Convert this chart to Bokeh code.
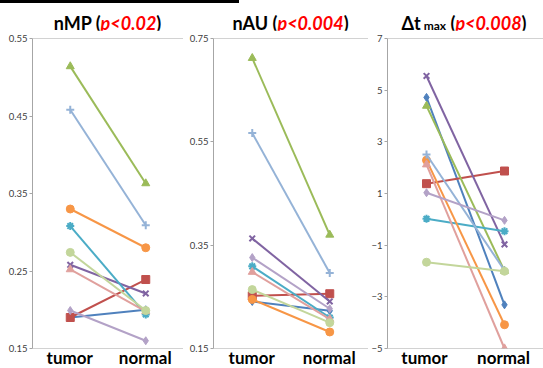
from bokeh.plotting import figure
from bokeh.models import Div, Range1d, FactorRange, FixedTicker, Span
from bokeh.layouts import row, column
from bokeh.embed import file_html
from bokeh.resources import INLINE

categories = ["tumor", "normal"]

series_colors = ["#4F81BD", "#C0504D", "#9BBB59", "#8064A2", "#4BACC6",
                 "#F79646", "#95B3D7", "#E0A09D", "#C3D69B", "#B3A2C7"]
series_markers = ["diamond", "square", "triangle", "x", "asterisk",
                  "circle", "cross", "triangle", "circle", "diamond"]

nmp_tumor = [0.190, 0.190, 0.514, 0.258, 0.308, 0.330, 0.458, 0.252, 0.274, 0.199]
nmp_normal = [0.200, 0.239, 0.363, 0.221, 0.194, 0.280, 0.309, 0.198, 0.199, 0.160]

nau_tumor = [0.241, 0.252, 0.712, 0.363, 0.309, 0.245, 0.567, 0.298, 0.264, 0.326]
nau_normal = [0.223, 0.256, 0.370, 0.241, 0.210, 0.182, 0.296, 0.207, 0.200, 0.227]

dt_tumor = [4.72, 1.38, 4.39, 5.55, 0.02, 2.29, 2.51, 2.12, -1.66, 1.03]
dt_normal = [-3.31, 1.87, -2.00, -0.97, -0.46, -4.08, -1.98, -5.00, -2.01, -0.04]

nmp_ticks = [0.15, 0.25, 0.35, 0.45, 0.55]
nau_ticks = [0.15, 0.35, 0.55, 0.75]
dt_ticks = [-5, -3, -1, 1, 3, 5, 7]

FONT = "Lato"
AXIS_GRAY = "#A6A6A6"
RED = "#FF0000"


def title_div(width, left, frame_w, inner_html, bar_w):
    html = (
        f'<div style="height:3px;width:{bar_w}px;background:#000;"></div>'
        f'<div style="margin-left:{left}px;width:{frame_w}px;text-align:center;'
        f'font-family:{FONT};font-weight:bold;font-size:18px;line-height:18px;'
        f'padding-top:11px;white-space:nowrap;color:#000;">{inner_html}</div>'
    )
    return Div(text=html, width=width, height=30, margin=(0, 0, 0, 0))


def category_div(width, left, frame_w):
    spans = "".join(
        f'<span style="flex:1;text-align:center;">{cat}</span>'
        for cat in categories)
    html = (
        f'<div style="display:flex;margin-left:{left}px;width:{frame_w}px;'
        f'font-family:{FONT};font-weight:bold;font-size:17px;line-height:14px;'
        f'position:relative;top:-3px;white-space:nowrap;color:#000;">{spans}</div>'
    )
    return Div(text=html, width=width, height=14, margin=(0, 0, 0, 0),
               styles={"overflow": "visible"})


def make_panel(width, left, ylo, yhi, ticks, tumor, normal):
    p = figure(width=width, height=324,
               x_range=FactorRange(*categories), y_range=Range1d(ylo, yhi),
               output_backend="svg", toolbar_location=None,
               min_border_left=left, min_border_right=0,
               min_border_top=8, min_border_bottom=6,
               background_fill_color="white", border_fill_color="white",
               margin=(0, 0, 0, 0))
    p.outline_line_color = None
    p.grid.visible = False

    p.yaxis.ticker = FixedTicker(ticks=ticks)
    p.yaxis.minor_tick_line_color = None
    p.yaxis.major_tick_out = 3
    p.yaxis.major_tick_in = 0
    p.yaxis.major_tick_line_color = AXIS_GRAY
    p.yaxis.axis_line_color = AXIS_GRAY
    p.yaxis.major_label_text_font = FONT
    p.yaxis.major_label_text_font_size = "9.5px"
    p.yaxis.major_label_text_color = "#404040"
    p.yaxis.major_label_standoff = 2

    # the category names sit in a row below the plot; keep the axis line
    p.xaxis.visible = False
    p.add_layout(Span(location=ylo, dimension="width",
                      line_color=AXIS_GRAY, line_width=1))
    p.add_layout(Span(location=yhi, dimension="width",
                      line_color=AXIS_GRAY, line_width=1))

    for i in range(len(tumor)):
        xs = categories
        ys = [tumor[i], normal[i]]
        c = series_colors[i]
        p.line(xs, ys, line_color=c, line_width=2)
        m = series_markers[i]
        if m in ("x", "asterisk", "cross"):
            p.scatter(xs, ys, marker=m, size=8, line_color=c, line_width=2,
                      fill_color=c)
        else:
            p.scatter(xs, ys, marker=m, size=8, line_color=c, fill_color=c)
    return p


red_p = lambda s: f'<span style="color:{RED};font-style:italic;">{s}</span>'

d1 = title_div(183, 32, 151, "nMP (" + red_p("p&lt;0.02") + ")", 183)
p1 = make_panel(183, 32, 0.15, 0.55, nmp_ticks, nmp_tumor, nmp_normal)
c1 = category_div(183, 32, 151)

d2 = title_div(185, 30, 155, "nAU (" + red_p("p&lt;0.004") + ")", 56)
p2 = make_panel(185, 30, 0.15, 0.75, nau_ticks, nau_tumor, nau_normal)
c2 = category_div(185, 30, 155)

dt_title = ('&Delta;t<span style="font-size:12px;"> max</span>&nbsp;('
            + red_p("p&lt;0.008") + ")")
d3 = title_div(175, 17, 158, dt_title, 0)
p3 = make_panel(175, 17, -5, 7, dt_ticks, dt_tumor, dt_normal)
c3 = category_div(175, 17, 158)

layout = row(column(d1, p1, c1, spacing=0), column(d2, p2, c2, spacing=0),
             column(d3, p3, c3, spacing=0), spacing=0)

open("out.html", "w").write(file_html(layout, INLINE))
